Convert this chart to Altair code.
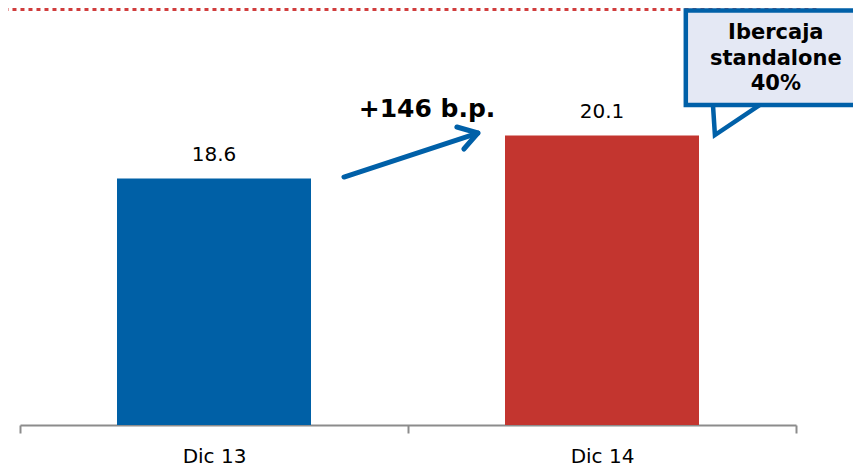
import altair as alt
import pandas as pd

# Bars
categories = ["Dic 13", "Dic 14"]
values = [18.6, 20.1]
bar_colors = ["#0060A6", "#C3352F"]

# Annotation geometry (in data units: x 0..2 across the two bands, y same as bars)
arrow_x = [0.835, 1.180]
arrow_y = [18.651, 20.186]
head_x = [1.126, 1.180, 1.144]
head_y = [20.395, 20.186, 19.628]
delta_label = "+146 b.p."
delta_pos = [1.049, 20.744]

dots_x = [-0.04, 2.056]
dots_y = 24.51

box_x = [1.716, 2.3]
box_y = [24.46, 21.163]
pointer_x = [1.786, 1.791, 1.907]
pointer_top = [21.302, 21.302, 21.302]
pointer_bottom = [21.163, 20.116, 21.163]
callout_lines = ["Ibercaja", "standalone", "40%"]
callout_y = [23.465, 22.558, 21.686]
callout_x = 1.948

Y_DOMAIN = [10, 22]
yscale = alt.Scale(domain=Y_DOMAIN, zero=False, nice=False)
xq = alt.Scale(domain=[0, 2], nice=False, zero=False)
BLUE = "#0060A8"

bars_df = pd.DataFrame({"cat": categories, "val": values, "color": bar_colors})
band = alt.Scale(paddingInner=0.5, paddingOuter=0.25)
full_band = alt.Scale(paddingInner=0, paddingOuter=0)

bars = alt.Chart(bars_df).mark_bar().encode(
    x=alt.X("cat:N", sort=None, scale=band, axis=None),
    y=alt.Y("val:Q", scale=yscale, axis=None),
    y2=alt.datum(10),
    color=alt.Color("color:N", scale=None),
)

labels = alt.Chart(bars_df).mark_text(
    dy=-17, baseline="alphabetic", fontSize=20, font="DejaVu Sans", color="#000000"
).encode(
    x=alt.X("cat:N", sort=None, scale=full_band, title=None,
            axis=alt.Axis(labelAngle=0, tickBand="extent", domainColor="#8c8c8c",
                          domainWidth=2, tickColor="#8c8c8c", tickWidth=2, tickSize=8,
                          labelFont="DejaVu Sans", labelFontSize=20,
                          labelColor="#000000", labelPadding=13, grid=False)),
    y=alt.Y("val:Q", scale=yscale, axis=None),
    text=alt.Text("val:Q", format=".1f"),
)

arrow_df = pd.DataFrame({
    "ax": arrow_x + head_x,
    "ay": arrow_y + head_y,
    "seg": ["shaft"] * 2 + ["head"] * 3,
    "o": [0, 1, 0, 1, 2],
})
arrow = alt.Chart(arrow_df).mark_line(
    color=BLUE, strokeWidth=5, strokeCap="round", strokeJoin="round"
).encode(
    x=alt.X("ax:Q", scale=xq, axis=None),
    y=alt.Y("ay:Q", scale=yscale, axis=None),
    detail="seg:N",
    order="o:Q",
)

delta_df = pd.DataFrame({"ax": [delta_pos[0]], "ay": [delta_pos[1]], "t": [delta_label]})
delta = alt.Chart(delta_df).mark_text(
    fontSize=25, fontWeight="bold", font="DejaVu Sans", baseline="alphabetic", color="#000000"
).encode(
    x=alt.X("ax:Q", scale=xq, axis=None),
    y=alt.Y("ay:Q", scale=yscale, axis=None),
    text="t:N",
)

dots_df = pd.DataFrame({"ax": [dots_x[0]], "ax2": [dots_x[1]], "ay": [dots_y]})
dots = alt.Chart(dots_df).mark_rule(
    color="#D03C3C", strokeWidth=4, strokeDash=[4, 4]
).encode(
    x=alt.X("ax:Q", scale=xq, axis=None),
    x2="ax2:Q",
    y=alt.Y("ay:Q", scale=yscale, axis=None),
)

box_df = pd.DataFrame({"ax": [box_x[0]], "ax2": [box_x[1]], "ay": [box_y[0]], "ay2": [box_y[1]]})
box = alt.Chart(box_df).mark_rect(
    fill="#E4E8F4", stroke=BLUE, strokeWidth=4.5
).encode(
    x=alt.X("ax:Q", scale=xq, axis=None),
    x2="ax2:Q",
    y=alt.Y("ay:Q", scale=yscale, axis=None),
    y2="ay2:Q",
)

ptr_df = pd.DataFrame({"ax": pointer_x, "top": pointer_top, "bot": pointer_bottom, "o": [0, 1, 2]})
ptr_fill = alt.Chart(ptr_df).mark_area(fill="#E4E8F4", interpolate="linear").encode(
    x=alt.X("ax:Q", scale=xq, axis=None),
    y=alt.Y("top:Q", scale=yscale, axis=None),
    y2="bot:Q",
    order="o:Q",
)
ptr_line = alt.Chart(ptr_df).mark_line(
    color=BLUE, strokeWidth=4.5, strokeJoin="miter"
).encode(
    x=alt.X("ax:Q", scale=xq, axis=None),
    y=alt.Y("bot:Q", scale=yscale, axis=None),
    order="o:Q",
)

call_df = pd.DataFrame({"t": callout_lines, "ay": callout_y, "ax": [callout_x] * 3})
call_text = alt.Chart(call_df).mark_text(
    fontSize=21, fontWeight="bold", font="DejaVu Sans", baseline="alphabetic", color="#000000"
).encode(
    x=alt.X("ax:Q", scale=xq, axis=None),
    y=alt.Y("ay:Q", scale=yscale, axis=None),
    text="t:N",
)

chart = alt.layer(
    dots, bars, labels, arrow, delta, box, ptr_fill, ptr_line, call_text
).resolve_scale(x="independent").properties(
    width=776, height=344,
    autosize=alt.AutoSizeParams(type="none"),
    padding={"left": 12, "top": 73, "right": 57, "bottom": 42},
).configure_view(stroke=None)

chart.save("out.html", embed_options={"renderer": "svg", "actions": False})
